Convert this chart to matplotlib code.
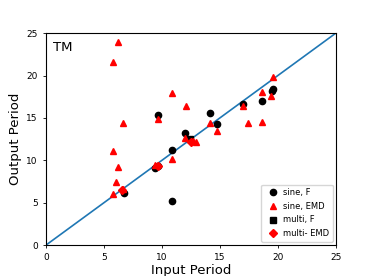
import matplotlib

matplotlib.use("Agg")

import matplotlib.pyplot as plt
import numpy as np

# sine, Fourier
sine_f_in = [9.66, 11.98, 14.14, 14.74, 18.62, 19.48, 19.57, 16.98, 9.40, 9.66, 10.86, 10.86, 6.72]
sine_f_out = [15.33, 13.21, 15.57, 14.27, 16.98, 18.16, 18.40, 16.63, 9.08, 9.32, 11.20, 5.19, 6.13]

# sine, EMD
sine_emd_in = [6.2, 5.78, 10.86, 12.07, 6.64, 9.66, 18.62, 19.57, 19.40, 16.98, 17.41, 18.62,
               14.14, 14.74, 11.98, 12.67, 12.93, 10.86, 9.40, 5.78, 6.2, 6.03, 5.78, 6.64]
sine_emd_out = [23.9, 21.6, 17.9, 16.4, 14.4, 14.86, 18.04, 19.8, 17.57, 16.4, 14.39, 14.5,
                14.39, 13.44, 12.6, 12.26, 12.15, 10.14, 9.43, 11.08, 9.2, 7.43, 6.0, 6.6]

# multi, Fourier
multi_f_in = [12.41]
multi_f_out = [12.5]

# multi, EMD
multi_emd_in = [12.5, 9.66, 6.55]
multi_emd_out = [12.15, 9.32, 6.49]

fig = plt.figure(figsize=(3.74, 2.76), dpi=100)
ax = fig.add_axes([0.123, 0.112, 0.775, 0.768])

diag = np.array([0, 25])
ax.plot(diag, diag, color="#1f77b4", linewidth=1.2, zorder=1)
ax.plot(sine_f_in, sine_f_out, "o", color="black", markersize=4.5, label="sine, F", zorder=2)
ax.plot(sine_emd_in, sine_emd_out, "^", color="red", markersize=4.5, label="sine, EMD", zorder=3)
ax.plot(multi_f_in, multi_f_out, "s", color="black", markersize=4.5, label="multi, F", zorder=2)
ax.plot(multi_emd_in, multi_emd_out, "D", color="red", markersize=4, label="multi- EMD", zorder=3)

ax.set_xlim(0, 25)
ax.set_ylim(0, 25)
ax.set_xticks([0, 5, 10, 15, 20, 25])
ax.set_yticks([0, 5, 10, 15, 20, 25])
ax.tick_params(labelsize=6.5, length=2.5, width=0.6)
for spine in ax.spines.values():
    spine.set_linewidth(0.8)
ax.set_xlabel("Input Period", fontsize=9.5, labelpad=1)
ax.set_ylabel("Output Period", fontsize=9.5, labelpad=3)
ax.text(0.024, 0.965, "TM", transform=ax.transAxes, fontsize=9.5, va="top", ha="left")
ax.legend(loc="lower right", fontsize=6, handletextpad=0.3, borderpad=0.45,
          labelspacing=0.55, handlelength=1.8, borderaxespad=0.4)

fig.savefig("out.png", dpi=100)
plt.close(fig)
